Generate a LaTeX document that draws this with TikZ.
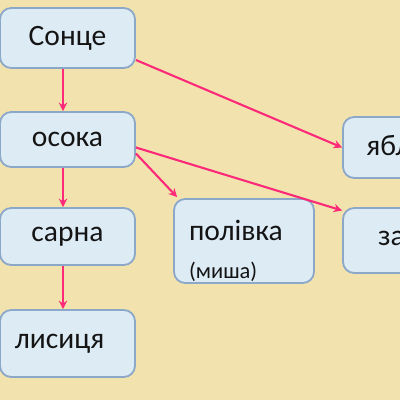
\documentclass[tikz,border=0pt]{standalone}
\usepackage{fontspec}
\setmainfont{Carlito}
\usetikzlibrary{calc,arrows.meta}
\definecolor{bg}{HTML}{F1E2AE}
\definecolor{boxfill}{HTML}{DDEBF5}
\definecolor{boxline}{HTML}{8CA8C8}
\definecolor{arr}{HTML}{FC2A78}
\definecolor{txt}{HTML}{141414}
\begin{document}
\begin{tikzpicture}[x=0.025cm,y=-0.025cm,
  box/.style={draw=boxline, fill=boxfill, line width=1.3pt, rounded corners=0.28cm,
    text=txt, font=\fontsize{21}{25}\selectfont, inner sep=0pt},
  arrow/.style={draw=arr, line width=1.5pt, -{Stealth[length=6pt,width=6pt]}}]
\fill[bg] (0,0) rectangle (400,400);
\useasboundingbox (0,0) rectangle (400,400);
\clip (0,0) rectangle (400,400);
\node[box, minimum width=135*0.025cm, minimum height=60*0.025cm] (s) at (67.5,38) {Сонце};
\node[box, minimum width=135*0.025cm, minimum height=55*0.025cm] (o) at (67.5,139.5) {осока};
\node[box, minimum width=135*0.025cm, minimum height=57*0.025cm] (c) at (67.5,236.5) {сарна};
\node[box, minimum width=135*0.025cm, minimum height=67*0.025cm] (l) at (67.5,343.5) {лисиця\hspace*{0.4cm}};
\node[box, minimum width=140*0.025cm, minimum height=84*0.025cm, align=left] (p) at (244,241)
  {\rule{0pt}{28pt}полівка\hspace*{0.4cm}\\[2pt]{\fontsize{16}{19}\selectfont (миша)}};
\node[box, minimum width=134*0.025cm, minimum height=61*0.025cm] (y) at (410,147.5) {яблуня};
\node[box, minimum width=140*0.025cm, minimum height=65*0.025cm] (z) at (413,240.5) {заєць};
\draw[arrow] ($(s.south)+(-4.5,0)$) -- ($(o.north)+(-4.5,0)$);
\draw[arrow] ($(o.south)+(-4.5,0)$) -- ($(c.north)+(-4.5,0)$);
\draw[arrow] ($(c.south)+(-4.5,0)$) -- ($(l.north)+(-4.5,0)$);
\draw[arrow] ($(s.east)+(0,22)$) -- (y.west);
\draw[arrow] ($(o.east)+(0,8)$) -- ($(z.west)+(0,-30)$);
\draw[arrow] ($(o.east)+(0,14)$) -- ($(p.north west)+(4,-1)$);
\end{tikzpicture}
\end{document}
